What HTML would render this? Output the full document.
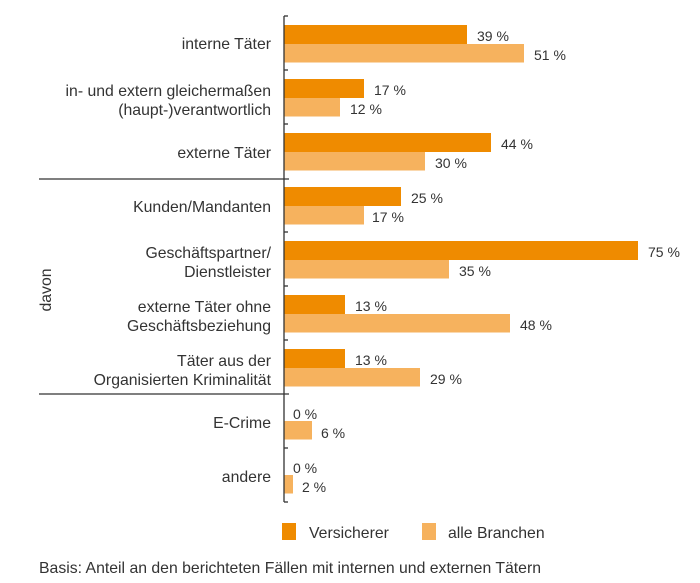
<!DOCTYPE html>
<html><head><meta charset="utf-8"><style>
html,body{margin:0;padding:0;background:#fff;}
svg{display:block;font-family:"Liberation Sans",Arial,sans-serif;}
text{fill:#333;font-size:14px;}
.l{font-size:15.8px;}
</style></head><body>
<svg width="700" height="583" viewBox="0 0 700 583">
<g id="bars">
<rect x="284" y="25" width="183" height="19" fill="#ef8b00"/><rect x="284" y="44" width="240" height="18.5" fill="#f6b25e"/>
<rect x="284" y="79" width="80" height="19" fill="#ef8b00"/><rect x="284" y="98" width="56" height="18.5" fill="#f6b25e"/>
<rect x="284" y="133" width="207" height="19" fill="#ef8b00"/><rect x="284" y="152" width="141" height="18.5" fill="#f6b25e"/>
<rect x="284" y="187" width="117" height="19" fill="#ef8b00"/><rect x="284" y="206" width="80" height="18.5" fill="#f6b25e"/>
<rect x="284" y="241" width="354" height="19" fill="#ef8b00"/><rect x="284" y="260" width="165" height="18.5" fill="#f6b25e"/>
<rect x="284" y="295" width="61" height="19" fill="#ef8b00"/><rect x="284" y="314" width="226" height="18.5" fill="#f6b25e"/>
<rect x="284" y="349" width="61" height="19" fill="#ef8b00"/><rect x="284" y="368" width="136" height="18.5" fill="#f6b25e"/>
<rect x="284" y="421" width="28" height="18.5" fill="#f6b25e"/>
<rect x="284" y="475" width="9" height="18.5" fill="#f6b25e"/>
</g>
<g stroke="#333" stroke-width="1.3">
<line x1="284" y1="16" x2="284" y2="502"/>
<line x1="284" y1="16" x2="288" y2="16"/><line x1="284" y1="70" x2="288" y2="70"/><line x1="284" y1="124" x2="288" y2="124"/>
<line x1="284" y1="232" x2="288" y2="232"/><line x1="284" y1="286" x2="288" y2="286"/><line x1="284" y1="340" x2="288" y2="340"/>
<line x1="284" y1="448" x2="288" y2="448"/><line x1="284" y1="502" x2="288" y2="502"/>
<line x1="39" y1="179" x2="289" y2="179"/><line x1="39" y1="394" x2="289" y2="394"/>
</g>
<g text-anchor="end" class="l">
<text class="l" x="271" y="49">interne Täter</text>
<text class="l" x="271" y="96">in- und extern gleichermaßen</text>
<text class="l" x="271" y="115">(haupt-)verantwortlich</text>
<text class="l" x="271" y="158">externe Täter</text>
<text class="l" x="271" y="212">Kunden/Mandanten</text>
<text class="l" x="271" y="258">Geschäftspartner/</text>
<text class="l" x="271" y="277">Dienstleister</text>
<text class="l" x="271" y="312">externe Täter ohne</text>
<text class="l" x="271" y="331">Geschäftsbeziehung</text>
<text class="l" x="271" y="366">Täter aus der</text>
<text class="l" x="271" y="385">Organisierten Kriminalität</text>
<text class="l" x="271" y="428">E-Crime</text>
<text class="l" x="271" y="482">andere</text>
</g>
<text class="l" x="51" y="290" text-anchor="middle" transform="rotate(-90 51 290)">davon</text>
<g>
<text x="477" y="41">39 %</text><text x="534" y="60">51 %</text>
<text x="374" y="95">17 %</text><text x="350" y="114">12 %</text>
<text x="501" y="149">44 %</text><text x="435" y="168">30 %</text>
<text x="411" y="203">25 %</text><text x="372" y="222">17 %</text>
<text x="648" y="257">75 %</text><text x="459" y="276">35 %</text>
<text x="355" y="311">13 %</text><text x="520" y="330">48 %</text>
<text x="355" y="365">13 %</text><text x="430" y="384">29 %</text>
<text x="293" y="419">0 %</text><text x="321" y="438">6 %</text>
<text x="293" y="473">0 %</text><text x="302" y="492">2 %</text>
</g>
<rect x="282" y="523" width="14" height="17" fill="#ef8b00"/>
<text class="l" x="309" y="538">Versicherer</text>
<rect x="422" y="523" width="14" height="17" fill="#f6b25e"/>
<text class="l" x="448" y="538">alle Branchen</text>
<text class="l" x="39" y="573">Basis: Anteil an den berichteten Fällen mit internen und externen Tätern</text>
</svg>
</body></html>
